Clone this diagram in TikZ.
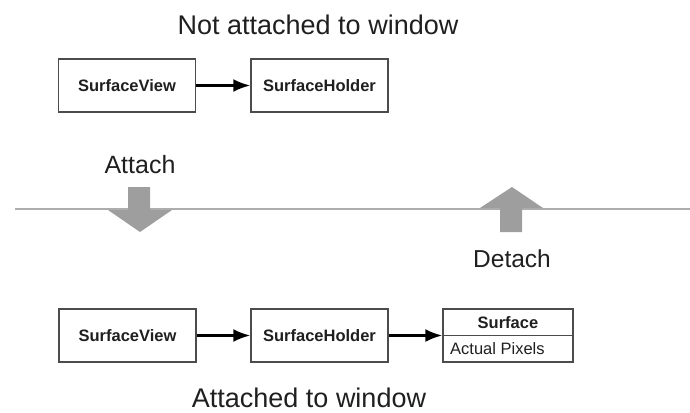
\documentclass[tikz,border=0pt]{standalone}
\usepackage{fontspec}
\setmainfont{Liberation Sans}
\usetikzlibrary{arrows.meta}
\tikzset{>=latex}
\colorlet{Boxcol}{black!70}
\colorlet{Txtcol}{black!88}
\colorlet{Movecol}{black!38}
\colorlet{Linecol}{black!32}
\tikzset{
  objbox/.style={draw=Boxcol, line width=1.3pt, minimum width=137pt, minimum height=53pt,
    inner sep=0pt, text=Txtcol, font=\fontsize{16.5}{19}\selectfont\bfseries},
  link/.style={line width=2.6pt, -{Latex[length=17pt,width=13pt]}},
  caption/.style={text=Txtcol, anchor=base, inner sep=0pt},
}

\begin{document}
\begin{tikzpicture}[x=1pt, y=-1pt]
    \useasboundingbox (0,0) rectangle (690,412);
    \def\LY{209}     % window line
    \def\TY{85.5}    % row of the detached objects
    \def\BY{335.5}   % row of the attached objects

    \node [caption, font=\fontsize{27}{30}\selectfont] (title) at (318, 35) {Not attached to window};
    \node [objbox] (view) at (127, \TY) {SurfaceView};
    \node [objbox] (holder) at (319.5, \TY) {SurfaceHolder};
    \draw [link] (view) -- (holder);

    \coordinate (lineL) at (15, \LY);
    \coordinate (lineR) at (690, \LY);
    \draw [Linecol, line width=2pt] (lineL) -- (lineR);
    \fill [Movecol] (128, 187) -- (150, 187) -- (150, 210) -- (172, 210) -- (140, 232)
        -- (108, 210) -- (128, 210) -- cycle;
    \fill [Movecol] (500, 232) -- (522, 232) -- (522, 208) -- (543, 208) -- (512, 187)
        -- (480, 208) -- (500, 208) -- cycle;
    \node [caption, font=\fontsize{25}{28}\selectfont] (attach) at (140, 173) {Attach};
    \node [caption, font=\fontsize{24.5}{28}\selectfont] (detach) at (512, 267) {Detach};

    \node [objbox] (view2) at (127.5, \BY) {SurfaceView};
    \node [objbox] (holder2) at (319.5, \BY) {SurfaceHolder};
    \node [objbox, minimum width=130pt] (surface) at (508, \BY) {};
    \draw [Boxcol, line width=1.3pt] (surface.west) -- (surface.east);
    \node [text=Txtcol, font=\fontsize{16.5}{19}\selectfont\bfseries] (surfname) at (508, 323) {Surface};
    \node [text=Txtcol, anchor=west, inner sep=0pt, font=\fontsize{16.5}{19}\selectfont] (pixels) at (450, 349) {Actual Pixels};
    \draw [link] (view2) -- (holder2);
    \draw [link] (holder2) -- (surface);
    \node [caption, font=\fontsize{27}{30}\selectfont] (title2) at (309, 407) {Attached to window};
\end{tikzpicture}
\end{document}
